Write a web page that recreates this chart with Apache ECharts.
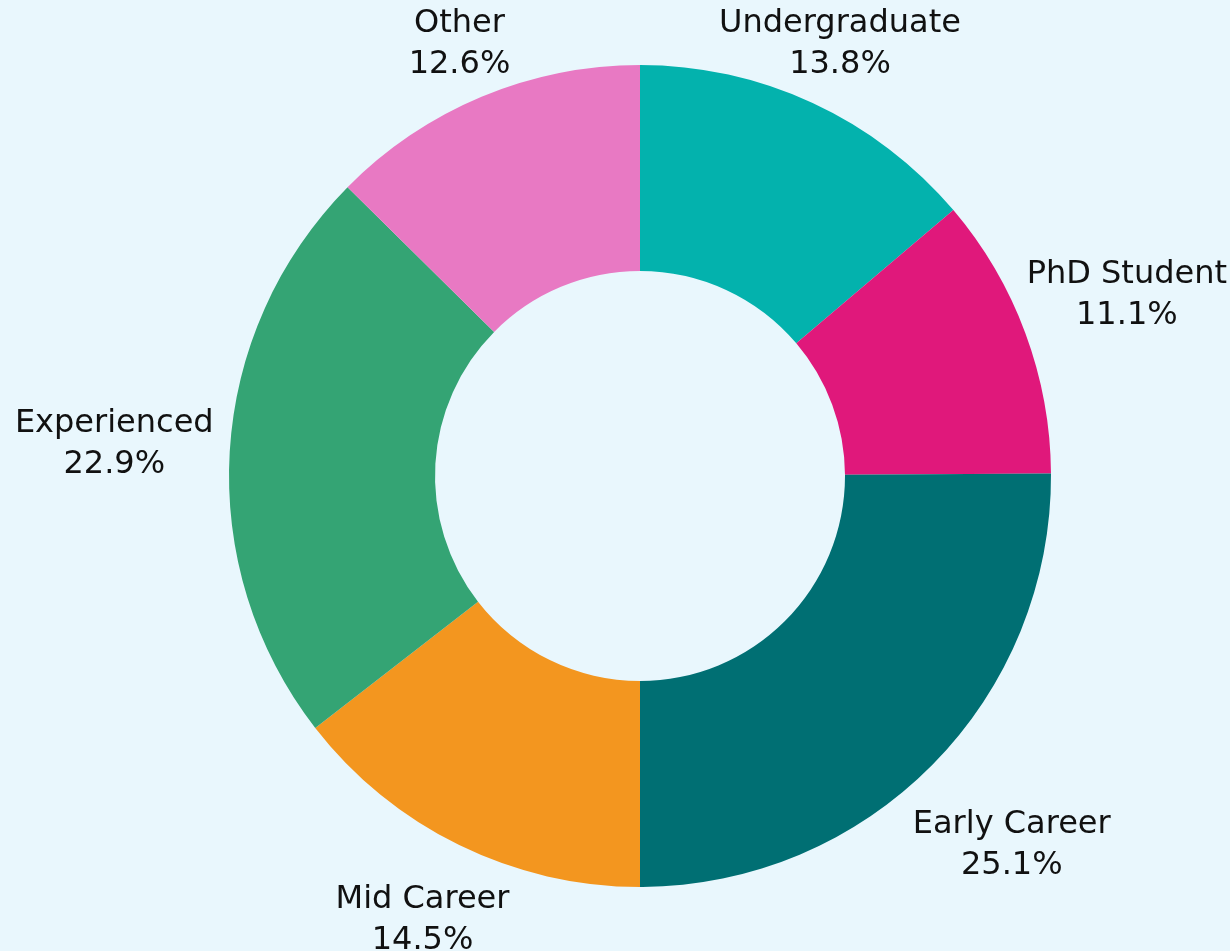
<!DOCTYPE html>
<html>
<head>
<meta charset="utf-8">
<script src="https://cdn.jsdelivr.net/npm/echarts@6/dist/echarts.min.js"></script>
<style>
  html, body { margin: 0; padding: 0; background: #e9f7fd; }
  #chart { width: 1230px; height: 951px; }
</style>
</head>
<body>
<div id="chart"></div>
<script>
// 数据
let categories = ['Undergraduate', 'PhD Student', 'Early Career', 'Mid Career', 'Experienced', 'Other']
let shares = [13.8, 11.1, 25.1, 14.5, 22.9, 12.6]
let colors = ['#03b2ad', '#e0187b', '#006f73', '#f3961f', '#34a474', '#e879c3']

// 布局
let W = 1230
let H = 951
let cx = 640
let cy = 476
let rInner = 205
let rOuter = 411
let gap = 14
let margin = 3
let marginBottom = -10 // 下方文字可贴近底边

let total = shares.reduce((a, b) => a + b, 0)

// 每个扇区中线角度（从正上方顺时针）
function midAngle (idx) {
  let cum = 0
  for (let i = 0; i < idx; i++) cum += shares[i]
  return 2 * Math.PI * (cum + shares[idx] / 2) / total
}

// 标签放在扇区外侧，超出画布时沿径向收回
function placeLabel (params) {
  let t = midAngle(params.dataIndex)
  let ux = Math.sin(t)
  let uy = -Math.cos(t)
  let hw = params.labelRect.width / 2
  let hh = params.labelRect.height / 2
  let d = rOuter + gap + Math.abs(ux) * hw + Math.abs(uy) * hh
  let x = cx + d * ux
  let y = cy + d * uy
  if (x + hw > W - margin) d = Math.min(d, (W - margin - hw - cx) / ux)
  if (x - hw < margin) d = Math.min(d, (margin + hw - cx) / ux)
  if (y - hh < margin) d = Math.min(d, (margin + hh - cy) / uy)
  if (y + hh > H - marginBottom) d = Math.min(d, (H - marginBottom - hh - cy) / uy)
  return {
    x: cx + d * ux,
    y: cy + d * uy,
    align: 'center',
    verticalAlign: 'middle'
  }
}

let chart = echarts.init(document.getElementById('chart'), null, { renderer: 'canvas' })
let option = {
  backgroundColor: '#e9f7fd',
  animation: false,
  textStyle: { fontFamily: '"DejaVu Sans", sans-serif' },
  series: [
    {
      type: 'pie',
      center: [cx, cy],
      radius: [rInner, rOuter],
      startAngle: 90,
      clockwise: true,
      avoidLabelOverlap: false,
      color: colors,
      itemStyle: { borderWidth: 0 },
      label: {
        show: true,
        position: 'outside',
        color: '#111',
        fontSize: 32,
        lineHeight: 41,
        align: 'center',
        formatter: function (p) {
          return p.name + '\n' + p.value.toFixed(1) + '%'
        }
      },
      labelLine: { show: false },
      labelLayout: placeLabel,
      emphasis: { disabled: true },
      data: categories.map((name, i) => ({ name: name, value: shares[i] }))
    }
  ]
}
chart.setOption(option)
</script>
</body>
</html>
